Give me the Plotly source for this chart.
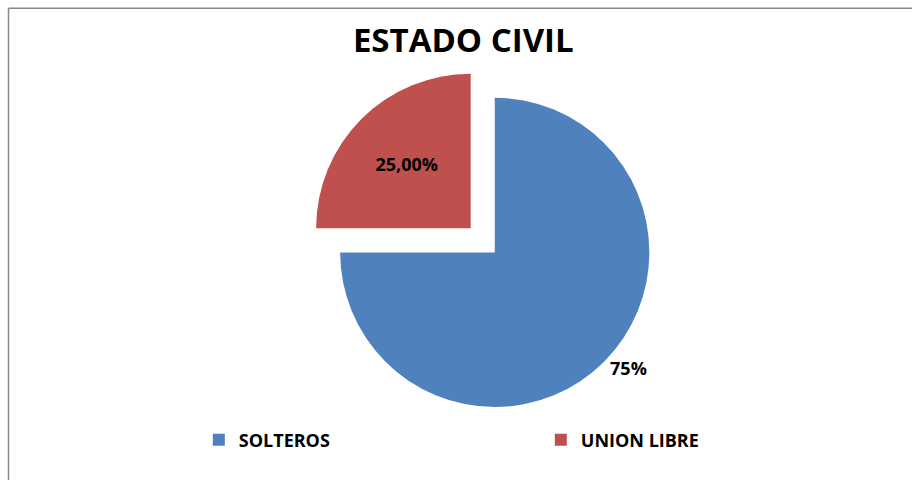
import plotly.graph_objects as go

categories = ["SOLTEROS", "UNION LIBRE"]
values = [75, 25]
colors = ["#4F81BD", "#C0504D"]
label_formats = ["%{percent:.0%}", "%{percent:.2%}"]

fig = go.Figure()
fig.add_trace(go.Pie(
    labels=categories,
    values=values,
    sort=False,
    direction="clockwise",
    rotation=0,
    pull=[0, 0.22],
    marker=dict(colors=colors, line=dict(width=0)),
    texttemplate=label_formats,
    textposition=["outside", "inside"],
    insidetextorientation="horizontal",
    textfont=dict(family="Open Sans", size=18, color="black", weight="bold"),
    outsidetextfont=dict(family="Open Sans", size=18, color="black", weight="bold"),
    insidetextfont=dict(family="Open Sans", size=18, color="black", weight="bold"),
    domain=dict(x=[0.32, 0.765], y=[0.05, 0.87]),
    hoverinfo="label+percent",
))

border = dict(color="#868686", width=1.5)
fig.update_layout(
    width=912, height=480,
    margin=dict(l=0, r=0, t=0, b=0),
    paper_bgcolor="white",
    separators=",.",
    title=dict(text="ESTADO CIVIL", x=0.508, xanchor="center", y=0.915, yanchor="middle",
               font=dict(family="Open Sans", size=33, color="black", weight="bold")),
    showlegend=True,
    legend=dict(orientation="h", x=0.218, xanchor="left", y=0.052, yanchor="middle",
                entrywidth=297, entrywidthmode="pixels", bgcolor="rgba(0,0,0,0)",
                font=dict(family="Open Sans", size=18, color="black", weight="bold"),
                traceorder="normal"),
    shapes=[
        dict(type="line", xref="paper", yref="paper", x0=8.5/912, x1=1, y0=1 - 4.5/480, y1=1 - 4.5/480, line=border),
        dict(type="line", xref="paper", yref="paper", x0=8.5/912, x1=8.5/912, y0=-0.05, y1=1 - 4.5/480, line=border),
    ],
)

fig.write_html("out.html")
